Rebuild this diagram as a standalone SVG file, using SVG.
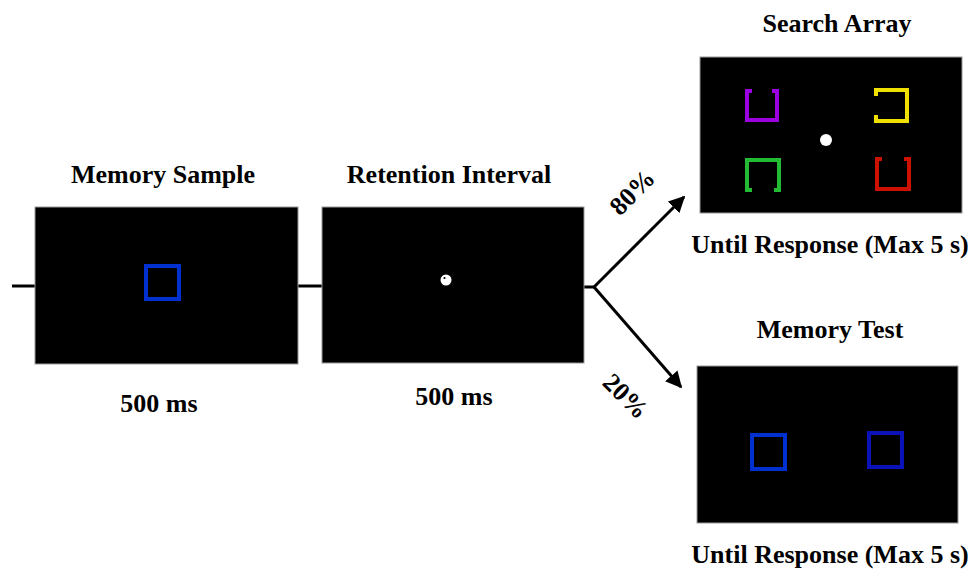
<svg xmlns="http://www.w3.org/2000/svg" width="975" height="573" viewBox="0 0 975 573">
<style>
.lbl{font-family:"Liberation Serif","Times New Roman",serif;font-weight:bold;font-size:26px;fill:#000;text-anchor:middle}
.panel{fill:#000;stroke:#999;stroke-width:1}
.conn{stroke:#000;stroke-width:3;fill:none}
.br{fill:none;stroke-width:4;stroke-linecap:butt;stroke-linejoin:miter}
</style>
<defs>
<marker id="ah" viewBox="0 0 10 10" refX="9" refY="5" markerWidth="5.5" markerHeight="5.5" orient="auto" markerUnits="strokeWidth">
<path d="M0,0 L10,5 L0,10 z" fill="#000"/>
</marker>
</defs>
<rect width="975" height="573" fill="#fff"/>
<g id="connectors">
<line class="conn" x1="12" y1="286" x2="35" y2="286"/>
<line class="conn" x1="298" y1="286" x2="322" y2="286"/>
<line class="conn" x1="584" y1="287" x2="594" y2="287"/>
<line class="conn" x1="594" y1="287" x2="684" y2="197" marker-end="url(#ah)"/>
<line class="conn" x1="594" y1="287" x2="681" y2="387" marker-end="url(#ah)"/>
<text class="lbl" transform="translate(632,192) rotate(-45)" y="9">80%</text>
<text class="lbl" transform="translate(626,396) rotate(45)" y="9">20%</text>
</g>
<g id="memory-sample">
<text class="lbl" x="163" y="183">Memory Sample</text>
<rect class="panel" x="35" y="207" width="263" height="157"/>
<rect x="146" y="266" width="33" height="33" fill="none" stroke="#0030d0" stroke-width="4"/>
<text class="lbl" x="159" y="412">500 ms</text>
</g>
<g id="retention-interval">
<text class="lbl" x="449" y="183">Retention Interval</text>
<rect class="panel" x="322" y="207" width="262" height="156"/>
<circle cx="446" cy="280" r="5.5" fill="#fff"/>
<circle cx="444.5" cy="278" r="1.1" fill="#000"/>
<text class="lbl" x="454" y="405">500 ms</text>
</g>
<g id="search-array">
<text class="lbl" x="837" y="32">Search Array</text>
<rect class="panel" x="700" y="57" width="262" height="156"/>
<path class="br" stroke="#9a00e0" d="M752 91 H747 V120 H777 V91 H772"/>
<path class="br" stroke="#f0e000" d="M876 96 V90 H907 V121 H876 V115"/>
<path class="br" stroke="#22bb33" d="M752 190 H747 V160 H779 V190 H774"/>
<path class="br" stroke="#cc1100" d="M882 159 H877 V189 H909 V159 H904"/>
<circle cx="826" cy="140" r="6" fill="#fff"/>
<text class="lbl" x="830" y="253">Until Response (Max 5 s)</text>
</g>
<g id="memory-test">
<text class="lbl" x="830" y="338">Memory Test</text>
<rect class="panel" x="697" y="366" width="261" height="157"/>
<rect x="752" y="435" width="33" height="34" fill="none" stroke="#0030d0" stroke-width="4"/>
<rect x="869" y="433" width="33" height="34" fill="none" stroke="#0a12b8" stroke-width="4"/>
<text class="lbl" x="830" y="563">Until Response (Max 5 s)</text>
</g>
</svg>
